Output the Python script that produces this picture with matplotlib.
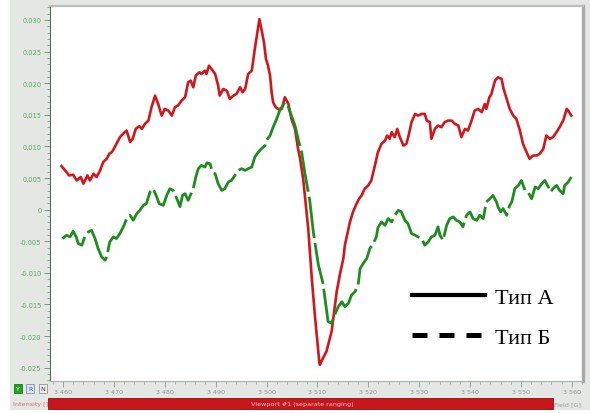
import matplotlib.pyplot as plt
from matplotlib.lines import Line2D
from matplotlib.patches import Rectangle
from matplotlib.ticker import MultipleLocator, FuncFormatter

# ЭПР-спектры: поле (Гс) и интенсивность (отн. ед.)
field_a = [3459.7, 3460.6, 3461.2, 3462.0, 3462.7, 3463.5, 3464.0, 3464.8, 3465.3, 3466.0,
           3466.6, 3467.3, 3467.9, 3468.6, 3469.1, 3469.6, 3470.0, 3470.5, 3471.2, 3471.8,
           3472.5, 3473.2, 3473.7, 3474.3, 3475.0, 3475.5, 3476.1, 3476.8, 3477.4, 3478.1,
           3478.7, 3479.4, 3480.0, 3480.7, 3481.4, 3482.0, 3482.6, 3483.3, 3484.0, 3484.6,
           3485.1, 3485.6, 3486.1, 3486.8, 3487.2, 3487.9, 3488.2, 3488.7, 3489.2, 3489.9,
           3490.5, 3490.8, 3491.5, 3492.2, 3492.8, 3493.5, 3494.1, 3494.8, 3495.3, 3495.8,
           3496.4, 3497.1, 3497.7, 3498.2, 3498.6, 3499.0, 3499.5, 3499.9, 3500.3, 3500.7,
           3501.0, 3501.3, 3501.8, 3502.3, 3503.0, 3503.6, 3504.3, 3504.9, 3505.6, 3506.2,
           3506.6, 3507.2, 3508.2, 3508.9, 3509.5, 3510.4, 3510.5, 3510.8, 3511.8, 3512.8,
           3513.8, 3514.4, 3515.1, 3515.4, 3516.4, 3517.0, 3517.7, 3518.2, 3518.7, 3519.3,
           3520.0, 3520.6, 3521.3, 3521.9, 3522.6, 3523.3, 3523.7, 3524.2, 3524.6, 3525.2,
           3525.7, 3526.2, 3526.9, 3527.5, 3528.0, 3528.5, 3529.2, 3529.8, 3530.5, 3531.1,
           3531.5, 3532.1, 3532.4, 3533.1, 3533.7, 3534.4, 3535.0, 3535.7, 3536.4, 3537.0,
           3537.7, 3538.3, 3539.0, 3539.6, 3540.3, 3540.9, 3541.6, 3542.3, 3542.9, 3543.2,
           3543.8, 3544.2, 3544.9, 3545.5, 3546.2, 3546.6, 3547.2, 3547.8, 3548.5, 3549.1,
           3549.8, 3550.4, 3551.1, 3551.7, 3552.4, 3553.1, 3553.7, 3554.4, 3555.0, 3555.7,
           3556.3, 3557.0, 3557.6, 3558.3, 3559.0, 3559.3, 3559.9]
intens_a = [0.00689, 0.00604, 0.00541, 0.00552, 0.00462, 0.00516, 0.00410, 0.00541, 0.00462, 0.00568,
            0.00516, 0.00620, 0.00752, 0.00804, 0.00883, 0.00910, 0.00962, 0.01041, 0.01146, 0.01199,
            0.01251, 0.01068, 0.01120, 0.01277, 0.01320, 0.01277, 0.01356, 0.01408, 0.01620, 0.01803,
            0.01672, 0.01487, 0.01593, 0.01566, 0.01487, 0.01620, 0.01645, 0.01724, 0.01777, 0.02014,
            0.02039, 0.01935, 0.02118, 0.02172, 0.02145, 0.02197, 0.02145, 0.02276, 0.02224, 0.02145,
            0.01960, 0.01803, 0.01908, 0.01881, 0.01750, 0.01803, 0.01829, 0.01935, 0.01856, 0.01908,
            0.02145, 0.02197, 0.02539, 0.02802, 0.03012, 0.02854, 0.02645, 0.02381, 0.02276, 0.02118,
            0.01856, 0.01698, 0.01620, 0.01593, 0.01593, 0.01777, 0.01672, 0.01435, 0.01277, 0.00962,
            0.00804, 0.00489, -0.00300, -0.01088, -0.01667, -0.02429, -0.02455, -0.02397, -0.02239, -0.01924,
            -0.01293, -0.01036, -0.00773, -0.00563, -0.00194, -0.00036, 0.00095, 0.00173, 0.00226, 0.00331,
            0.00383, 0.00462, 0.00699, 0.00910, 0.01041, 0.01093, 0.01172, 0.01120, 0.01225, 0.01146,
            0.01277, 0.01146, 0.01014, 0.01041, 0.01199, 0.01383, 0.01514, 0.01487, 0.01514, 0.01514,
            0.01408, 0.01383, 0.01120, 0.01277, 0.01329, 0.01304, 0.01383, 0.01408, 0.01408, 0.01356,
            0.01329, 0.01146, 0.01277, 0.01251, 0.01408, 0.01566, 0.01593, 0.01541, 0.01672, 0.01593,
            0.01777, 0.01829, 0.02039, 0.02093, 0.02066, 0.01908, 0.01750, 0.01593, 0.01487, 0.01435,
            0.01251, 0.01041, 0.00910, 0.00804, 0.00856, 0.00856, 0.00883, 0.00962, 0.01172, 0.01120,
            0.01146, 0.01225, 0.01304, 0.01408, 0.01593, 0.01566, 0.01487]

field_b = [3459.9, 3460.7, 3461.4, 3462.0, 3462.6, 3463.0, 3463.7, 3464.3, 3465.0, 3465.6,
           3466.3, 3466.9, 3467.6, 3468.3, 3468.6, 3469.2, 3469.9, 3470.5, 3471.2, 3472.0,
           3472.5, 3473.2, 3473.8, 3474.5, 3475.1, 3475.8, 3476.4, 3477.1, 3477.7, 3478.3,
           3478.9, 3479.7, 3480.4, 3481.0, 3481.7, 3482.3, 3483.0, 3483.5, 3484.0, 3484.6,
           3485.1, 3485.6, 3486.1, 3486.6, 3487.2, 3487.9, 3488.3, 3488.9, 3489.4, 3489.9,
           3490.5, 3491.2, 3491.8, 3492.5, 3493.1, 3493.8, 3494.4, 3495.1, 3495.8, 3496.4,
           3497.1, 3497.7, 3498.4, 3499.0, 3499.7, 3500.0, 3500.7, 3501.3, 3502.0, 3502.6,
           3503.2, 3503.6, 3504.3, 3504.9, 3505.6, 3506.2, 3506.9, 3507.5, 3508.5, 3509.2,
           3510.2, 3511.1, 3511.5, 3512.1, 3512.8, 3513.4, 3514.1, 3514.8, 3515.4, 3516.1,
           3516.7, 3517.4, 3518.0, 3518.4, 3519.0, 3519.7, 3520.3, 3521.0, 3521.6, 3521.9,
           3522.6, 3523.3, 3523.9, 3524.6, 3525.2, 3525.9, 3526.5, 3527.2, 3527.8, 3528.5,
           3529.2, 3529.8, 3530.5, 3531.1, 3531.8, 3532.4, 3533.1, 3533.7, 3534.1, 3534.7,
           3535.4, 3536.0, 3536.7, 3537.3, 3538.0, 3538.6, 3539.3, 3540.0, 3540.6, 3541.3,
           3541.9, 3542.6, 3543.2, 3543.9, 3544.5, 3545.2, 3545.5, 3546.0, 3546.5, 3547.2,
           3547.8, 3548.2, 3548.8, 3549.5, 3550.1, 3550.8, 3551.4, 3552.1, 3552.8, 3553.4,
           3554.1, 3554.7, 3555.4, 3555.8, 3556.3, 3557.0, 3557.6, 3558.3, 3558.6, 3559.3,
           3559.9]
intens_b = [-0.00457, -0.00405, -0.00431, -0.00342, -0.00431, -0.00536, -0.00563, -0.00426, -0.00352, -0.00326,
            -0.00457, -0.00615, -0.00746, -0.00800, -0.00746, -0.00509, -0.00431, -0.00457, -0.00378, -0.00248,
            -0.00142, -0.00090, -0.00169, -0.00063, -0.00011, 0.00068, 0.00095, 0.00279, 0.00331, 0.00226,
            0.00095, 0.00068, 0.00226, 0.00331, 0.00300, 0.00189, 0.00047, 0.00226, 0.00252, 0.00147,
            0.00237, 0.00331, 0.00516, 0.00647, 0.00699, 0.00673, 0.00741, 0.00725, 0.00595, 0.00568,
            0.00410, 0.00304, 0.00331, 0.00437, 0.00462, 0.00541, 0.00620, 0.00647, 0.00620, 0.00647,
            0.00673, 0.00831, 0.00910, 0.00962, 0.01014, 0.01093, 0.01172, 0.01304, 0.01435, 0.01566,
            0.01645, 0.01698, 0.01620, 0.01487, 0.01329, 0.01120, 0.00910, 0.00595, 0.00142, -0.00352,
            -0.00878, -0.01167, -0.01404, -0.01771, -0.01798, -0.01667, -0.01534, -0.01456, -0.01534, -0.01482,
            -0.01352, -0.01298, -0.01194, -0.00930, -0.00852, -0.00773, -0.00615, -0.00536, -0.00426, -0.00284,
            -0.00194, -0.00248, -0.00142, -0.00194, -0.00090, -0.00011, -0.00036, -0.00169, -0.00221, -0.00378,
            -0.00405, -0.00431, -0.00457, -0.00563, -0.00509, -0.00431, -0.00405, -0.00273, -0.00405, -0.00484,
            -0.00248, -0.00142, -0.00115, -0.00169, -0.00194, -0.00273, -0.00090, -0.00036, -0.00142, -0.00169,
            -0.00090, -0.00142, 0.00121, 0.00173, 0.00226, 0.00121, 0.00043, -0.00036, 0.00016, -0.00090,
            0.00068, 0.00121, 0.00331, 0.00383, 0.00462, 0.00304, 0.00279, 0.00173, 0.00358, 0.00331,
            0.00410, 0.00462, 0.00358, 0.00279, 0.00331, 0.00383, 0.00304, 0.00252, 0.00383, 0.00437,
            0.00516]

labels = ['Тип А', 'Тип Б']
x_range = (3457.45, 3562.2)
y_range = (-0.0271, 0.0322)

W, H = 590, 414
fig = plt.figure(figsize=(W / 100, H / 100), dpi=100)
fig.patch.set_facecolor('white')

def px(x, y, w, h):
    # прямоугольник в пикселях (от верхнего левого угла) -> доли фигуры
    return (x / W, 1 - (y + h) / H), w / W, h / H

# серая подложка окна (под осями)
xy, w, h = px(10, 0, 580, 411)
fig.patches.append(Rectangle(xy, w, h, transform=fig.transFigure,
                             facecolor='#e4e7e4', edgecolor='none', zorder=-5))

ax = fig.add_axes([50 / W, 1 - 382 / H, 533 / W, 375 / H])
ax.set_facecolor('white')

ax.plot(field_a, intens_a, color='#d2161b', lw=1.9, solid_joinstyle='round')
ax.plot(field_b, intens_b, color='#1e8c1e', lw=2.0, dashes=(15, 1.8))

ax.set_xlim(*x_range)
ax.set_ylim(*y_range)

ax.xaxis.set_major_locator(MultipleLocator(10))
ax.xaxis.set_minor_locator(MultipleLocator(2))
ax.xaxis.set_major_formatter(FuncFormatter(lambda v, p: '%d %03d' % (int(v) // 1000, int(v) % 1000)))
ax.yaxis.set_major_locator(MultipleLocator(0.005))
ax.yaxis.set_minor_locator(MultipleLocator(0.001))
ax.yaxis.set_major_formatter(FuncFormatter(lambda v, p: '0' if abs(v) < 1e-9 else '%.3f' % v))

ax.tick_params(axis='x', which='major', length=4.5, width=0.6, color='#8c9c8c',
               labelsize=4.6, labelcolor='#8a968a', pad=1.5)
ax.tick_params(axis='x', which='minor', length=2.2, width=0.5, color='#8c9c8c')
ax.tick_params(axis='y', which='major', length=4.5, width=0.6, color='#6a8a6a',
               labelsize=4.8, labelcolor='#4caf50', pad=1.5)
ax.tick_params(axis='y', which='minor', length=2.2, width=0.5, color='#6a8a6a')

ax.spines['left'].set_color('#5e6e5e')
ax.spines['left'].set_linewidth(0.8)
ax.spines['bottom'].set_color('#a8b4a8')
ax.spines['bottom'].set_linewidth(0.8)
ax.spines['top'].set_color('#bdbdbd')
ax.spines['top'].set_linewidth(1.6)
ax.spines['right'].set_color('#a9a9a9')
ax.spines['right'].set_linewidth(2.4)

handles = [Line2D([], [], color='black', lw=3.0),
           Line2D([], [], color='black', lw=3.6, dashes=(3.0, 2.4))]
ax.legend(handles, labels, loc='upper left', bbox_to_anchor=(0.679, 0.249),
          frameon=False, prop={'family': 'Liberation Serif', 'size': 16},
          handlelength=3.3, handletextpad=0.45, labelspacing=0.85,
          borderpad=0, borderaxespad=0)

# нижняя строка состояния
xy, w, h = px(48, 399, 505, 11)
fig.patches.append(Rectangle(xy, w, h, transform=fig.transFigure,
                             facecolor='#c8161d', edgecolor='#8e0b10', lw=0.6, zorder=2))
fig.text(302 / W, 1 - 404.5 / H, 'Viewport #1 (separate ranging)', ha='center', va='center',
         fontsize=4.6, color='#f3c4c4', zorder=3)
fig.text(31 / W, 1 - 404.5 / H, 'Intensity []', ha='center', va='center',
         fontsize=4.6, color='#e06a6a')
fig.text(567 / W, 1 - 404.5 / H, 'Field [G]', ha='center', va='center',
         fontsize=4.6, color='#9a9a9a')

# кнопки Y / R / N
buttons = [('Y', 14, '#20a020', '#1a7a1a', 'white'),
           ('R', 26, '#dde3f0', '#8090b0', '#3050c0'),
           ('N', 39, '#eeeeee', '#909090', '#404040')]
for txt, bx, fc, ec, tc in buttons:
    xy, w, h = px(bx, 385, 8, 9)
    fig.patches.append(Rectangle(xy, w, h, transform=fig.transFigure,
                                 facecolor=fc, edgecolor=ec, lw=0.6, zorder=2))
    fig.text((bx + 4) / W, 1 - 389.5 / H, txt, ha='center', va='center',
             fontsize=4.5, color=tc, zorder=3)

fig.savefig('out.png', dpi=100)
